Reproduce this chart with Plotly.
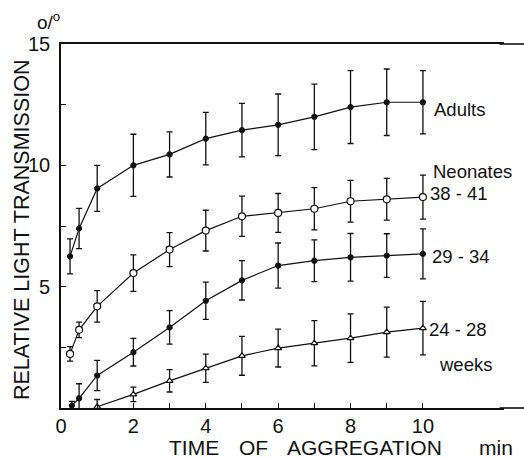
import plotly.graph_objects as go

# ---- data ----
t_full = [0.25, 0.5, 1, 2, 3, 4, 5, 6, 7, 8, 9, 10]

adults_y = [6.25, 7.4, 9.05, 10.0, 10.45, 11.1, 11.45, 11.67, 12.0, 12.4, 12.6, 12.6]
adults_e = [0.72, 0.83, 0.95, 1.28, 0.93, 1.08, 1.1, 1.27, 1.35, 1.5, 1.37, 1.3]

n3841_y = [2.23, 3.22, 4.19, 5.56, 6.53, 7.31, 7.9, 8.04, 8.21, 8.52, 8.6, 8.69]
n3841_e = [0.3, 0.32, 0.65, 0.75, 0.7, 0.84, 0.83, 0.8, 0.87, 0.86, 0.86, 0.91]

n2934_t = [0.3, 0.5, 1, 2, 3, 4, 5, 6, 7, 8, 9, 10]
n2934_y = [0.1, 0.4, 1.34, 2.3, 3.32, 4.42, 5.26, 5.87, 6.07, 6.21, 6.28, 6.35]
n2934_e = [0.17, 0.6, 0.62, 0.57, 0.69, 0.77, 0.81, 0.93, 0.86, 0.98, 0.9, 1.03]

n2428_t = [1, 2, 3, 4, 5, 6, 7, 8, 9, 10]
n2428_y = [0.05, 0.56, 1.12, 1.64, 2.15, 2.47, 2.67, 2.88, 3.13, 3.29]
n2428_e = [0.3, 0.3, 0.46, 0.58, 0.8, 0.78, 0.93, 1.0, 1.03, 1.1]

x_tickvals = list(range(0, 11))
x_ticktext = ["0", "", "2", "", "4", "", "6", "", "8", "", "10"]
y_tickvals = [0, 2.5, 5, 7.5, 10, 12.5, 15]
y_ticktext = ["", "", "5", "", "10", "", "15"]

series_labels = [
    ("Adults", 10.25, 12.31),
    ("Neonates", 10.22, 9.76),
    ("38 - 41", 10.14, 8.83),
    ("29 - 34", 10.19, 6.25),
    ("24 - 28", 10.11, 3.22),
    ("weeks", 10.39, 1.78),
]

FONT = "Liberation Sans, Arial, Helvetica, sans-serif"
BLACK = "#111111"

fig = go.Figure()

def add_series(x, y, e, symbol, size, fill):
    fig.add_trace(go.Scatter(
        x=x, y=y, mode="lines+markers",
        line=dict(color=BLACK, width=1.2),
        marker=dict(symbol=symbol, size=size, color=fill,
                    line=dict(color=BLACK, width=1.2)),
        error_y=dict(type="data", array=e, visible=True,
                     color=BLACK, thickness=1.3, width=3),
        showlegend=False,
    ))

add_series(t_full, adults_y, adults_e, "circle", 5, BLACK)
add_series(t_full, n3841_y, n3841_e, "circle", 7, "white")
add_series(n2934_t, n2934_y, n2934_e, "circle", 5, BLACK)
add_series(n2428_t, n2428_y, n2428_e, "triangle-up", 6, "white")

for text, x, y in series_labels:
    fig.add_annotation(x=x, y=y, xref="x", yref="y", text=text,
                       showarrow=False, xanchor="left", yanchor="middle",
                       font=dict(family=FONT, size=18.5, color=BLACK))

PLOT_W = 524 - 61 - 20

# axis titles as text annotations
fig.add_annotation(x=(22 - 61) / PLOT_W, y=0.489, xref="paper", yref="paper",
                   text="RELATIVE LIGHT TRANSMISSION", textangle=-90,
                   showarrow=False, xanchor="center", yanchor="middle",
                   font=dict(family=FONT, size=21.5, color=BLACK))
for text, px in [("TIME", 167), ("OF", 237), ("AGGREGATION", 285), ("min", 477)]:
    fig.add_annotation(x=(px - 61) / PLOT_W, y=-0.108, xref="paper", yref="paper",
                       text=text, showarrow=False, xanchor="left", yanchor="middle",
                       font=dict(family=FONT, size=21, color=BLACK))
fig.add_annotation(x=(48 - 61) / PLOT_W, y=1.063, xref="paper", yref="paper",
                   text="o/<sup>o</sup>", showarrow=False,
                   xanchor="center", yanchor="middle",
                   font=dict(family=FONT, size=19, color=BLACK))

# extend the top and bottom frame lines to the right edge, as in the original
for yy in (0, 1):
    fig.add_shape(type="line", xref="paper", yref="paper",
                  x0=0.99, x1=(524 - 61) / PLOT_W, y0=yy, y1=yy,
                  line=dict(color=BLACK, width=1.6))

fig.update_layout(
    width=524, height=458,
    margin=dict(l=61, r=20, t=44, b=50),
    paper_bgcolor="white", plot_bgcolor="white",
    font=dict(family=FONT, size=20, color=BLACK),
    xaxis=dict(range=[0, 12.24], tickvals=x_tickvals, ticktext=x_ticktext,
               ticks="inside", ticklen=5, tickwidth=1.3, tickcolor=BLACK,
               showline=True, linecolor=BLACK, linewidth=1.6, mirror=True,
               showgrid=False, zeroline=False, ticklabelstandoff=-1,
               tickfont=dict(family=FONT, size=20, color=BLACK)),
    yaxis=dict(range=[0, 15], tickvals=y_tickvals, ticktext=y_ticktext,
               ticks="inside", ticklen=5, tickwidth=1.3, tickcolor=BLACK,
               showline=True, linecolor=BLACK, linewidth=1.6, mirror=False,
               showgrid=False, zeroline=False, ticklabelstandoff=5,
               tickfont=dict(family=FONT, size=20, color=BLACK)),
)

fig.write_html("out.html", config={"displayModeBar": False},
               post_script=("document.body.style.margin='0';"
                            "document.body.style.overflow='hidden';"
                            "document.documentElement.style.overflow='hidden';"))
